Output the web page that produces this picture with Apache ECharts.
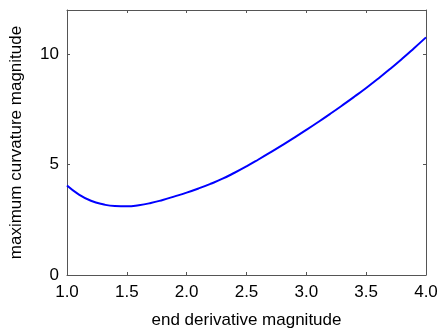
<!DOCTYPE html>
<html>
<head>
<meta charset="utf-8">
<script src="https://cdn.jsdelivr.net/npm/echarts@6/dist/echarts.min.js"></script>
<style>
  html, body { margin: 0; padding: 0; background: #fff; }
  #chart { width: 441px; height: 334px; }
</style>
</head>
<body>
<div id="chart"></div>
<script>
// End derivative magnitude vs. maximum curvature magnitude
const endDerivative = [1.0, 1.1, 1.2, 1.3, 1.4, 1.5, 1.6, 1.7, 1.8, 1.9, 2.0, 2.1, 2.2, 2.3, 2.4, 2.5, 2.6, 2.7, 2.8, 2.9, 3.0, 3.1, 3.2, 3.3, 3.4, 3.5, 3.6, 3.7, 3.8, 3.9, 4.0];
const maxCurvature  = [4.05, 3.64, 3.36, 3.2, 3.12, 3.11, 3.16, 3.26, 3.4, 3.56, 3.73, 3.92, 4.13, 4.36, 4.63, 4.92, 5.23, 5.55, 5.88, 6.22, 6.57, 6.93, 7.3, 7.68, 8.07, 8.47, 8.89, 9.33, 9.79, 10.27, 10.76];
const xTicks = { min: 1, max: 4, step: 0.5 };
const yTicks = { min: 0, max: 12, step: 5 };

const axisColor = '#555';
const fontFamily = '"Liberation Sans", Arial, sans-serif';

const chart = echarts.init(document.getElementById('chart'), null, { renderer: 'canvas' });

const points = endDerivative.map((x, i) => [x, maxCurvature[i]]);

const tickStyle = { show: true, inside: true, length: 3, lineStyle: { color: axisColor, width: 1 } };
const lineStyle = { show: true, onZero: false, lineStyle: { color: axisColor, width: 1 } };

chart.setOption({
  animation: false,
  grid: { left: 67, right: 15, top: 10, bottom: 57, containLabel: false },
  xAxis: [
    {
      type: 'value', position: 'bottom',
      min: xTicks.min, max: xTicks.max, interval: xTicks.step,
      name: 'end derivative magnitude', nameLocation: 'middle', nameGap: 37,
      nameTextStyle: { color: '#000', fontSize: 17, fontFamily },
      axisLine: lineStyle, axisTick: tickStyle,
      axisLabel: { color: '#000', fontSize: 17, fontFamily, margin: 9, formatter: v => v.toFixed(1) },
      splitLine: { show: false }
    },
    {
      type: 'value', position: 'top',
      min: xTicks.min, max: xTicks.max, interval: xTicks.step,
      axisLine: lineStyle, axisTick: tickStyle,
      axisLabel: { show: false }, splitLine: { show: false }
    }
  ],
  yAxis: [
    {
      type: 'value', position: 'left',
      min: yTicks.min, max: yTicks.max, interval: yTicks.step,
      name: 'maximum curvature magnitude', nameLocation: 'middle', nameGap: 42,
      nameTextStyle: { color: '#000', fontSize: 17, fontFamily },
      axisLine: lineStyle, axisTick: tickStyle,
      axisLabel: { color: '#000', fontSize: 17, fontFamily, margin: 8, showMaxLabel: false },
      splitLine: { show: false }
    },
    {
      type: 'value', position: 'right',
      min: yTicks.min, max: yTicks.max, interval: yTicks.step,
      axisLine: lineStyle, axisTick: tickStyle,
      axisLabel: { show: false }, splitLine: { show: false }
    }
  ],
  series: [
    {
      type: 'line',
      xAxisIndex: 0, yAxisIndex: 0,
      data: points,
      smooth: true,
      showSymbol: false,
      lineStyle: { color: '#0000ff', width: 2 }
    }
  ]
});
</script>
</body>
</html>
